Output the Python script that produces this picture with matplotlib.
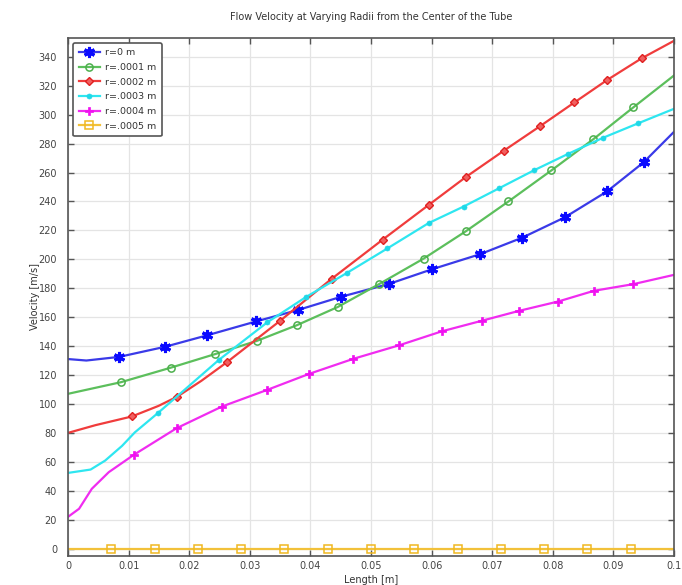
import numpy as np
import matplotlib
matplotlib.use("Agg")
import matplotlib.pyplot as plt
from matplotlib.ticker import MultipleLocator

title = "Flow Velocity at Varying Radii from the Center of the Tube"
xlabel = "Length [m]"
ylabel = "Velocity [m/s]"
labels = ["r=0 m", "r=.0001 m", "r=.0002 m", "r=.0003 m", "r=.0004 m", "r=.0005 m"]
xticks = [0, 0.01, 0.02, 0.03, 0.04, 0.05, 0.06, 0.07, 0.08, 0.09, 0.1]
xticklabels = ["0", "0.01", "0.02", "0.03", "0.04", "0.05", "0.06", "0.07", "0.08", "0.09", "0.1"]

x_r0 = [0, 0.003, 0.0084, 0.016, 0.023, 0.031, 0.038, 0.045, 0.053, 0.060, 0.068, 0.075, 0.082, 0.089, 0.095, 0.1]
y_r0 = [131, 130, 132.5, 139.5, 147.5, 157, 165, 174, 183, 193, 203.5, 215, 229, 247, 267, 288]
m_r0 = list(range(2, 15))

x_r1 = [0, 0.0087, 0.0169, 0.0243, 0.0311, 0.0378, 0.0445, 0.0514, 0.0587, 0.0657, 0.0727, 0.0798, 0.0867, 0.0933, 0.1]
y_r1 = [107, 115, 125, 134.5, 143.5, 154.5, 167, 183, 200.5, 219.5, 240, 261.5, 283, 305, 327]
m_r1 = list(range(1, 14))

x_r2 = [0, 0.0045, 0.0105, 0.0149, 0.018, 0.022, 0.0262, 0.035, 0.0435, 0.0519, 0.0595, 0.0657, 0.0719, 0.0779, 0.0836, 0.089, 0.0947, 0.1]
y_r2 = [80, 85.3, 91.3, 98.6, 105, 116, 128.8, 157.5, 186.5, 213.5, 237.5, 257, 275, 292, 308.5, 324, 339, 351]
m_r2 = [2, 4, 6, 7, 8, 9, 10, 11, 12, 13, 14, 15, 16]

x_r3 = [0, 0.0037, 0.0061, 0.0089, 0.011, 0.0149, 0.0249, 0.0329, 0.0393, 0.046, 0.0527, 0.0595, 0.0653, 0.0711, 0.0769, 0.0826, 0.0883, 0.0941, 0.1]
y_r3 = [52.3, 54.6, 60.8, 71, 80.3, 94, 130.5, 156.5, 174, 190.5, 207.5, 225, 236.5, 249, 261.5, 273, 284, 294, 304]
m_r3 = list(range(5, 18))

x_r4 = [0, 0.0018, 0.0039, 0.0067, 0.0108, 0.0179, 0.0254, 0.0328, 0.0398, 0.0471, 0.0547, 0.0617, 0.0683, 0.0745, 0.0809, 0.0868, 0.0933, 0.1]
y_r4 = [22, 27.5, 41.3, 52.8, 64.7, 83.2, 98.2, 109.6, 120.8, 131.2, 140.6, 150.2, 157.5, 164.4, 170.8, 178.2, 182.8, 189.2]
m_r4 = list(range(4, 17))

x_r5 = [0, 0.00714, 0.01429, 0.02143, 0.02857, 0.03571, 0.04286, 0.05, 0.05714, 0.06429, 0.07143, 0.07857, 0.08571, 0.09286, 0.1]
y_r5 = [0] * 15
m_r5 = list(range(1, 14))

series = [
    (x_r0, y_r0, m_r0, "#3a3ae8", dict(marker=(6, 2, 0), markersize=8, markeredgewidth=2.2, markeredgecolor="#0a0aff", markerfacecolor="#0a0aff")),
    (x_r1, y_r1, m_r1, "#5cbf5c", dict(marker="o", markersize=5.2, markeredgewidth=1.1, markeredgecolor="#4caf4c", markerfacecolor="none")),
    (x_r2, y_r2, m_r2, "#f03c3c", dict(marker="D", markersize=3.6, markeredgewidth=1.0, markeredgecolor="#e02020", markerfacecolor="#f06060")),
    (x_r3, y_r3, m_r3, "#2ee6f0", dict(marker="o", markersize=3.6, markeredgewidth=0.5, markeredgecolor="#1fd8e8", markerfacecolor="#1fd8e8")),
    (x_r4, y_r4, m_r4, "#f02cf0", dict(marker="P", markersize=5.5, markeredgewidth=0.5, markeredgecolor="#f010f0", markerfacecolor="#f010f0")),
    (x_r5, y_r5, m_r5, "#f2c13a", dict(marker="s", markersize=5.2, markeredgewidth=1.1, markeredgecolor="#f0b820", markerfacecolor="none")),
]

fig = plt.figure(figsize=(6.82, 5.85), dpi=100)
ax = fig.add_axes([0.1, 0.05, 0.888, 0.885])

for (xs, ys, mk, col, mstyle), lab in zip(series, labels):
    ax.plot(xs, ys, color=col, linewidth=1.6, markevery=mk, label=lab, **mstyle)

ax.set_xlim(0, 0.1)
ax.set_ylim(-5, 353)
ax.yaxis.set_major_locator(MultipleLocator(20))
ax.set_xticks(xticks)
ax.set_xticklabels(xticklabels)

ax.grid(True, color="#e4e4e4", linewidth=0.9)
ax.set_axisbelow(True)
ax.tick_params(direction="in", top=True, right=True, length=4, width=1, colors="#555555", labelsize=7, labelcolor="#444444")
ax.tick_params(axis="y", pad=8)
ax.tick_params(axis="x", pad=4)
for s in ax.spines.values():
    s.set_color("#555555")
    s.set_linewidth(1.2)

ax.set_title(title, fontsize=7, color="#333333", pad=13)
ax.set_xlabel(xlabel, fontsize=7, color="#333333", labelpad=3)
ax.set_ylabel(ylabel, fontsize=7, color="#333333", labelpad=-1)

leg = ax.legend(loc="upper left", fontsize=6.8, frameon=True, fancybox=True, framealpha=1,
                edgecolor="#555555", borderpad=0.6, labelspacing=0.6, handlelength=2.3,
                handletextpad=0.5, borderaxespad=0.5)
leg.get_frame().set_linewidth(1.2)
for t in leg.get_texts():
    t.set_color("#333333")

fig.savefig("out.png", dpi=100)
